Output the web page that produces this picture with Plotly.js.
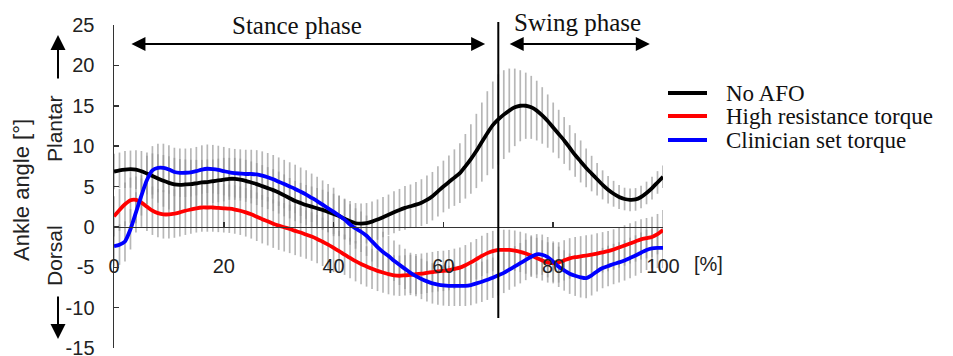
<!DOCTYPE html>
<html>
<head>
<meta charset="utf-8">
<script src="https://cdn.plot.ly/plotly-3.0.1.min.js"></script>
<style>html,body{margin:0;padding:0;background:#fff;}#chart{width:953px;height:356px;}</style>
</head>
<body>
<div id="chart"></div>
<script>
// Gait cycle [%]
const gaitPct = Array.from({length: 101}, (_, i) => i);

const seriesNames = ["No AFO", "High resistance torque", "Clinician set torque"];
const seriesColors = ["#000000", "#ff0000", "#0000ff"];

const noAFO = [
  6.85,7.0,7.1,7.15,7.1,6.9,6.6,6.3,6.0,5.7,
  5.45,5.25,5.2,5.25,5.3,5.4,5.5,5.55,5.65,5.75,
  5.85,5.95,5.95,5.85,5.7,5.5,5.3,5.05,4.8,4.55,
  4.25,3.9,3.55,3.2,2.95,2.7,2.5,2.3,2.1,1.85,
  1.6,1.35,1.0,0.7,0.45,0.4,0.45,0.65,0.9,1.2,
  1.5,1.8,2.1,2.35,2.55,2.75,3.0,3.35,3.8,4.4,
  5.0,5.55,6.1,6.65,7.5,8.4,9.4,10.5,11.6,12.6,
  13.3,13.9,14.4,14.8,15.0,15.0,14.8,14.4,13.8,13.1,
  12.3,11.5,10.7,9.8,8.9,8.1,7.3,6.6,5.9,5.2,
  4.6,4.1,3.7,3.45,3.35,3.4,3.7,4.2,4.8,5.5,6.2
];
const highResistance = [
  1.3,2.1,2.8,3.3,3.35,3.0,2.5,2.0,1.7,1.55,
  1.55,1.65,1.8,2.0,2.15,2.3,2.4,2.4,2.4,2.35,
  2.3,2.25,2.15,2.0,1.8,1.55,1.25,0.95,0.7,0.4,
  0.15,-0.05,-0.25,-0.5,-0.7,-0.95,-1.2,-1.5,-1.85,-2.2,
  -2.6,-3.0,-3.45,-3.85,-4.25,-4.6,-4.9,-5.2,-5.45,-5.65,
  -5.85,-6.0,-6.05,-6.0,-5.95,-5.85,-5.8,-5.7,-5.6,-5.5,
  -5.45,-5.35,-5.2,-5.05,-4.75,-4.4,-4.0,-3.6,-3.25,-3.0,
  -2.85,-2.85,-2.85,-2.95,-3.1,-3.3,-3.55,-3.85,-4.15,-4.4,
  -4.5,-4.4,-4.15,-3.9,-3.75,-3.65,-3.55,-3.45,-3.3,-3.15,
  -3.0,-2.8,-2.55,-2.3,-2.05,-1.8,-1.55,-1.4,-1.25,-0.9,-0.4
];
const clinicianSet = [
  -2.4,-2.2,-1.8,-0.3,1.8,3.9,5.8,7.0,7.3,7.3,
  7.1,6.8,6.7,6.7,6.75,6.9,7.1,7.2,7.15,7.05,
  6.9,6.75,6.65,6.6,6.55,6.55,6.5,6.35,6.15,5.9,
  5.6,5.3,5.0,4.7,4.35,4.0,3.6,3.2,2.75,2.3,
  1.85,1.4,0.9,0.3,-0.2,-0.6,-1.1,-1.8,-2.5,-3.1,
  -3.6,-4.2,-4.7,-5.2,-5.7,-6.1,-6.45,-6.75,-7.0,-7.15,
  -7.25,-7.3,-7.3,-7.3,-7.3,-7.2,-7.0,-6.8,-6.55,-6.3,
  -6.0,-5.7,-5.3,-4.9,-4.5,-4.1,-3.7,-3.4,-3.45,-3.75,
  -4.3,-4.95,-5.4,-5.8,-6.05,-6.25,-6.35,-6.0,-5.5,-5.1,
  -4.85,-4.6,-4.4,-4.15,-3.85,-3.55,-3.2,-2.85,-2.65,-2.6,-2.6
];

// Standard deviations (gray bars)
const noAFO_SD = [
  2.2,2.2,2.3,2.3,2.4,2.5,2.6,2.8,3.0,3.2,
  3.3,3.3,3.2,3.1,3.0,2.9,2.8,2.8,2.7,2.7,
  2.7,2.6,2.6,2.6,2.6,2.6,2.6,2.6,2.6,2.6,
  2.6,2.6,2.5,2.5,2.5,2.5,2.5,2.5,2.5,2.5,
  2.5,2.5,2.5,2.5,2.5,2.5,2.5,2.5,2.5,2.5,
  2.5,2.6,2.6,2.7,2.7,2.8,2.9,3.0,3.0,3.1,
  3.2,3.3,3.5,3.7,4.0,4.3,4.6,4.9,5.2,5.4,
  5.6,5.5,5.2,4.8,4.4,4.1,3.9,3.7,3.5,3.3,
  3.1,3.0,2.9,2.8,2.7,2.6,2.4,2.2,2.0,1.8,
  1.7,1.6,1.5,1.4,1.4,1.4,1.4,1.4,1.4,1.4,1.4
];
const highResistance_SD = [
  2.5,2.6,2.7,2.8,2.9,3.0,3.0,3.0,3.0,3.0,
  3.0,3.0,3.0,3.0,3.0,3.0,3.0,3.0,3.0,3.0,
  3.0,3.0,3.0,3.0,3.0,3.0,3.0,3.0,3.0,3.0,
  3.0,3.0,3.0,3.0,3.0,3.0,3.0,3.0,3.0,3.0,
  3.0,2.5,2.5,2.5,2.5,2.5,2.5,2.5,2.5,2.5,
  2.5,2.5,2.5,2.5,2.5,2.5,2.5,2.5,2.5,2.5,
  2.5,2.5,2.5,2.5,2.5,2.5,2.5,2.5,2.5,2.5,
  2.5,2.5,2.5,2.5,2.5,2.5,2.5,2.5,2.5,2.5,
  2.5,2.5,2.5,2.5,2.5,2.5,2.5,2.5,2.5,2.5,
  2.5,2.5,2.5,2.5,2.5,2.5,2.5,2.5,2.5,2.5,2.5
];
const clinicianSet_SD = [
  2.5,2.5,2.5,2.5,2.5,2.5,3.0,3.0,3.0,3.0,
  3.0,3.0,3.0,3.0,3.0,3.0,3.0,3.0,3.0,3.0,
  3.0,3.0,3.0,3.0,3.0,3.0,3.0,3.0,3.0,3.0,
  3.0,3.0,3.0,3.0,3.0,3.0,3.0,3.0,3.0,3.0,
  3.0,2.5,2.5,2.5,2.5,2.5,2.5,2.5,2.5,2.5,
  2.5,2.5,2.5,2.5,2.5,2.5,2.5,2.5,2.5,2.5,
  2.5,2.5,2.5,2.5,2.5,2.5,2.5,2.5,2.5,2.5,
  2.5,2.5,2.5,2.5,2.5,2.5,2.5,2.5,2.5,2.5,
  2.5,2.5,2.5,2.5,2.5,2.5,2.5,2.5,2.5,2.5,
  2.5,2.5,2.5,2.5,2.5,2.5,2.5,2.5,2.5,2.5,2.5
];

const xTickVals = [0, 20, 40, 60, 80, 100];
const yTickVals = [-15, -10, -5, 0, 5, 10, 15, 20, 25];
const phaseLabels = ["Stance phase", "Swing phase"];
const phaseBoundary = 70;

const means = [noAFO, highResistance, clinicianSet];
const sds = [noAFO_SD, highResistance_SD, clinicianSet_SD];

const traces = [];
// gray SD bars first (under the lines)
means.forEach((m, i) => {
  traces.push({
    x: gaitPct, y: m, type: 'scatter', mode: 'markers',
    marker: {size: 1, color: 'rgba(0,0,0,0)'},
    error_y: {type: 'data', array: sds[i], visible: true, color: 'rgba(145,145,145,0.65)', thickness: 1.7, width: 0},
    showlegend: false, hoverinfo: 'skip'
  });
});
means.forEach((m, i) => {
  traces.push({
    x: gaitPct, y: m, type: 'scatter', mode: 'lines', name: seriesNames[i],
    line: {color: seriesColors[i], width: 3.8, shape: 'spline', smoothing: 0.6},
    showlegend: false
  });
});

// geometry helpers (paper coords)
const L = 114, T = 25, W = 549, H = 323;
const px = p => (p - L) / W;
const py = p => (T + H - p) / H;

const sansFamily = 'Liberation Sans, Arial, sans-serif';
const serifFamily = 'Liberation Serif, Times New Roman, serif';
const sansFont = {family: sansFamily, size: 20, color: '#222'};
const serifFont = {family: serifFamily, size: 23, color: '#111'};

function label(text, x, y, font, extra) {
  return Object.assign({text: text, xref: 'paper', yref: 'paper', x: x, y: y,
    xanchor: 'center', yanchor: 'middle', showarrow: false, font: font}, extra || {});
}

const annotations = [
  label('Ankle angle [°]', px(21), py(190), {family: sansFamily, size: 22, color: '#222'}, {textangle: -90}),
  label('Plantar', px(54), py(129), {family: sansFamily, size: 21, color: '#222'}, {textangle: -90}),
  label('Dorsal', px(54), py(256), {family: sansFamily, size: 21, color: '#222'}, {textangle: -90}),
  {text: '', xref: 'paper', yref: 'paper', x: px(58), y: py(35), ax: 0, ay: 45, showarrow: true, arrowhead: 2, arrowsize: 1.5, arrowwidth: 2, arrowcolor: '#000', standoff: 0},
  {text: '', xref: 'paper', yref: 'paper', x: px(58), y: py(339), ax: 0, ay: -44, showarrow: true, arrowhead: 2, arrowsize: 1.5, arrowwidth: 2, arrowcolor: '#000', standoff: 0},
  label('[%]', px(708), py(264), sansFont),
  // phase headers
  label(phaseLabels[0], px(297), py(25), {family: serifFamily, size: 25, color: '#111'}),
  label(phaseLabels[1], px(577), py(23), {family: serifFamily, size: 25, color: '#111'}),
  {text: '', xref: 'x', yref: 'paper', axref: 'x', ayref: 'paper', x: 67.6, y: py(44), ax: 2.9, ay: py(44), showarrow: true, arrowside: 'end+start', arrowhead: 2, startarrowhead: 2, arrowsize: 1.4, startarrowsize: 1.4, arrowwidth: 2, arrowcolor: '#000', standoff: 0, startstandoff: 0},
  {text: '', xref: 'x', yref: 'paper', axref: 'x', ayref: 'paper', x: 97.6, y: py(44), ax: 71.8, ay: py(44), showarrow: true, arrowside: 'end+start', arrowhead: 2, startarrowhead: 2, arrowsize: 1.4, startarrowsize: 1.4, arrowwidth: 2, arrowcolor: '#000', standoff: 0, startstandoff: 0}
];

// manual legend
const legendRows = [93, 116, 140];
const shapes = [
  {type: 'line', xref: 'x', yref: 'paper', x0: phaseBoundary, x1: phaseBoundary, y0: py(318), y1: py(22), line: {color: '#000', width: 2}}
];
seriesNames.forEach((n, i) => {
  shapes.push({type: 'line', xref: 'paper', yref: 'paper', x0: px(668), x1: px(707), y0: py(legendRows[i]), y1: py(legendRows[i]), line: {color: seriesColors[i], width: 4}});
  annotations.push(label(n, px(724), py(legendRows[i]), serifFont, {xanchor: 'left'}));
});

const layout = {
  width: 953, height: 356,
  margin: {l: L, r: 953 - L - W, t: T, b: 356 - T - H, pad: 0},
  paper_bgcolor: '#fff', plot_bgcolor: '#fff',
  showlegend: false,
  xaxis: {
    range: [0, 100], anchor: 'free', position: 0.375,
    showline: true, linecolor: '#333', linewidth: 1.5,
    showgrid: false, zeroline: false,
    tickvals: xTickVals, ticktext: xTickVals.map(String),
    ticks: 'inside', ticklen: 5, tickwidth: 1.5, tickcolor: '#333',
    ticklabelstandoff: 21, ticklabeloverflow: 'allow',
    tickfont: sansFont
  },
  yaxis: {
    range: [-15, 25], domain: [0, 1],
    showline: true, linecolor: '#333', linewidth: 1.5,
    showgrid: false, zeroline: false,
    tickvals: yTickVals, ticktext: yTickVals.map(String),
    ticks: 'inside', ticklen: 5, tickwidth: 1.5, tickcolor: '#333',
    ticklabelstandoff: 14, ticklabeloverflow: 'allow',
    tickfont: sansFont
  },
  annotations: annotations,
  shapes: shapes
};

Plotly.newPlot('chart', traces, layout, {displayModeBar: false, staticPlot: true});
</script>
</body>
</html>
